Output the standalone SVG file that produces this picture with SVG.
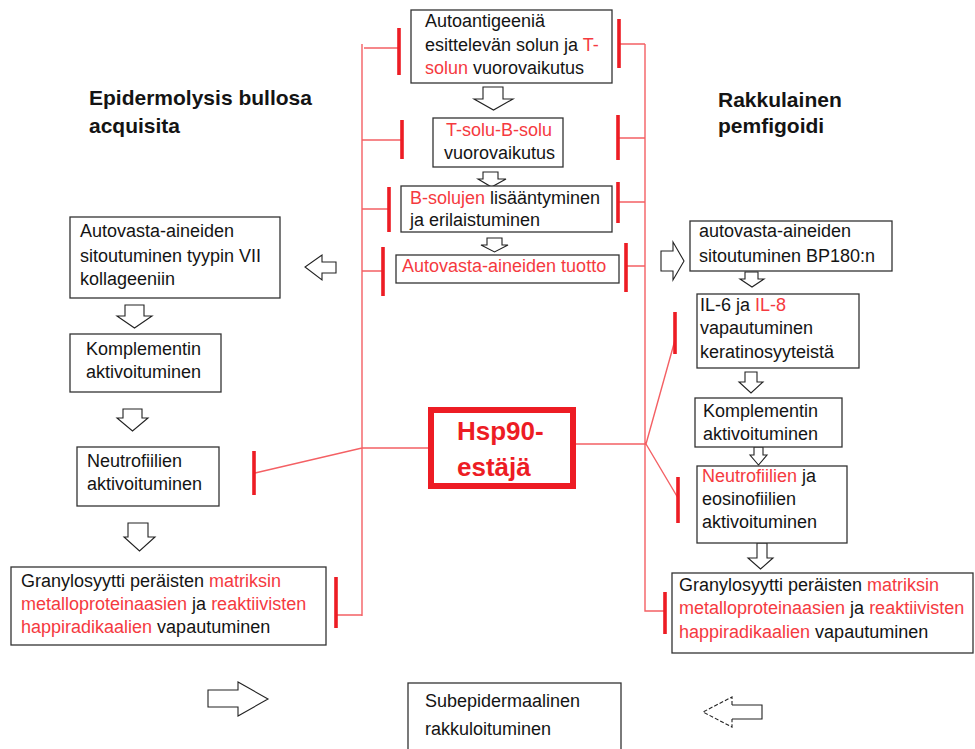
<svg xmlns="http://www.w3.org/2000/svg" width="975" height="749" viewBox="0 0 975 749">
<style>
text{font-family:"Liberation Sans",Arial,sans-serif;font-size:18px;fill:#141414}
.r{fill:#f53a3f}
.t{font-weight:bold;font-size:21px}
.h{font-weight:bold;font-size:26px;fill:#ed1c24}
.box{fill:#fff;stroke:#333;stroke-width:1.3}
.arr{fill:#fff;stroke:#222;stroke-width:1.1;stroke-linejoin:miter}
.ln{fill:none;stroke:#f46064;stroke-width:1.4}
.bar{stroke:#ed1c24;stroke-width:3.6;fill:none}
</style>
<rect width="975" height="749" fill="#fff"/>

<g id="connectors">
  <!-- left bracket -->
  <path class="ln" d="M362,44 V616 M364,48 H399 M362,140 H402 M362,209 H389 M362,271 H383 M336,615 H362 M430,448 H362 L255,473"/>
  <!-- right bracket -->
  <path class="ln" d="M645,44 V611 H665 M619,44 H645 M618,138 H645 M618,202 H645 M626,266 H645 M573,444 H646 L675,340 M646,444 L678,498"/>
  <!-- inhibition bars -->
  <path class="bar" d="M399,28 V75 M402,120 V159 M389,187 V232 M383,247 V296 M254,451 V495 M336,577 V628 M619,19 V68 M618,115 V160 M618,182 V223 M626,243 V292 M675,312 V354 M678,477 V523 M665,592 V634"/>
  <!-- hollow block arrows -->
  <path class="arr" d="M483,87 H503 V99 H513 L493.5,110 L474,99 H483 Z"/>
  <path class="arr" d="M483,172 H498 V179 H506 L491.5,187 L478,179 H483 Z"/>
  <path class="arr" d="M487,238 H502 V245 H508 L494.5,252 L481,245 H487 Z"/>
  <path class="arr" d="M125,305 H144 V316 H152 L134.5,328 L117,316 H125 Z"/>
  <path class="arr" d="M123,409 H142 V418 H148 L132.5,431 L117,418 H123 Z"/>
  <path class="arr" d="M128,523 H148 V537 H155 L139.5,551 L124,537 H128 Z"/>
  <path class="arr" d="M745,272 H758 V279 H764 L752,287 L740,279 H745 Z"/>
  <path class="arr" d="M745,372 H757 V382 H763 L751,393 L739,382 H745 Z"/>
  <path class="arr" d="M754,447 H763 V455 H767 L758.5,465 L750,455 H754 Z"/>
  <path class="arr" d="M757,543 H767 V558 H773 L760.5,569 L748,558 H757 Z"/>
  <path class="arr" d="M336,262 V273 H322 V280 L305,267 L322,255 V262 Z"/>
  <path class="arr" d="M661,251 V271 H673 V280 L684,261 L673,242 V251 Z"/>
  <path class="arr" d="M208,690 V707 H238 V716 L268,699 L238,682 V690 Z"/>
  <path class="arr" d="M732,705 H762 V719 H732" />
  <path class="arr" d="M732,705 V697 L703,712 L732,727 V719" stroke-dasharray="4 2"/>
</g>

<g id="title-eba"><text class="t" x="89" y="105">Epidermolysis bullosa</text><text class="t" x="89" y="133">acquisita</text></g>
<g id="title-bp"><text class="t" x="718" y="107">Rakkulainen</text><text class="t" x="718" y="133">pemfigoidi</text></g>

<g id="n-autoantigen">
  <rect class="box" x="411" y="10" width="201" height="73"/>
  <text x="425" y="27">Autoantigeeniä</text>
  <text x="425" y="50.5">esittelevän solun ja <tspan class="r">T-</tspan></text>
  <text x="425" y="74"><tspan class="r">solun</tspan> vuorovaikutus</text>
</g>
<g id="n-tb">
  <rect class="box" x="433" y="118" width="130" height="49"/>
  <text x="446" y="136" class="r">T-solu-B-solu</text>
  <text x="444" y="159">vuorovaikutus</text>
</g>
<g id="n-bcell">
  <rect class="box" x="401" y="186" width="211" height="46"/>
  <text x="410" y="204"><tspan class="r">B-solujen</tspan> lisääntyminen</text>
  <text x="410" y="226">ja erilaistuminen</text>
</g>
<g id="n-tuotto">
  <rect class="box" x="396" y="255" width="223" height="28"/>
  <text x="402" y="272" class="r">Autovasta-aineiden tuotto</text>
</g>

<g id="n-hsp90">
  <rect x="431" y="410" width="142" height="76" fill="#fff" stroke="#ed1c24" stroke-width="6"/>
  <text class="h" x="457" y="440">Hsp90-</text>
  <text class="h" x="457" y="476">estäjä</text>
</g>

<g id="n-l1">
  <rect class="box" x="70" y="217" width="210" height="81"/>
  <text x="80" y="237">Autovasta-aineiden</text>
  <text x="80" y="262">sitoutuminen tyypin VII</text>
  <text x="80" y="285">kollageeniin</text>
</g>
<g id="n-l2">
  <rect class="box" x="70" y="334" width="151" height="58"/>
  <text x="86" y="355">Komplementin</text>
  <text x="86" y="378">aktivoituminen</text>
</g>
<g id="n-l3">
  <rect class="box" x="77" y="447" width="142" height="59"/>
  <text x="87" y="467">Neutrofiilien</text>
  <text x="87" y="490">aktivoituminen</text>
</g>
<g id="n-l4">
  <rect class="box" x="11" y="567" width="315" height="78"/>
  <text x="21" y="587">Granylosyytti peräisten <tspan class="r">matriksin</tspan></text>
  <text x="21" y="610"><tspan class="r">metalloproteinaasien</tspan> ja <tspan class="r">reaktiivisten</tspan></text>
  <text x="21" y="633"><tspan class="r">happiradikaalien</tspan> vapautuminen</text>
</g>

<g id="n-r1">
  <rect class="box" x="690" y="221" width="202" height="50"/>
  <text x="699" y="237">autovasta-aineiden</text>
  <text x="699" y="262">sitoutuminen BP180:n</text>
</g>
<g id="n-r2">
  <rect class="box" x="697" y="294" width="162" height="74"/>
  <text x="700" y="311">IL-6 ja <tspan class="r">IL-8</tspan></text>
  <text x="700" y="334">vapautuminen</text>
  <text x="700" y="358">keratinosyyteistä</text>
</g>
<g id="n-r3">
  <rect class="box" x="695" y="398" width="147" height="49"/>
  <text x="703" y="417">Komplementin</text>
  <text x="703" y="440">aktivoituminen</text>
</g>
<g id="n-r4">
  <rect class="box" x="697" y="466" width="150" height="77"/>
  <text x="702" y="482"><tspan class="r">Neutrofiilien</tspan> ja</text>
  <text x="702" y="505">eosinofiilien</text>
  <text x="702" y="528">aktivoituminen</text>
</g>
<g id="n-r5">
  <rect class="box" x="672" y="573" width="301" height="80"/>
  <text x="679" y="591">Granylosyytti peräisten <tspan class="r">matriksin</tspan></text>
  <text x="679" y="614"><tspan class="r">metalloproteinaasien</tspan> ja <tspan class="r">reaktiivisten</tspan></text>
  <text x="679" y="638"><tspan class="r">happiradikaalien</tspan> vapautuminen</text>
</g>

<g id="n-subepi">
  <rect class="box" x="408" y="683" width="213" height="80"/>
  <text x="425" y="707">Subepidermaalinen</text>
  <text x="425" y="735">rakkuloituminen</text>
</g>
</svg>
